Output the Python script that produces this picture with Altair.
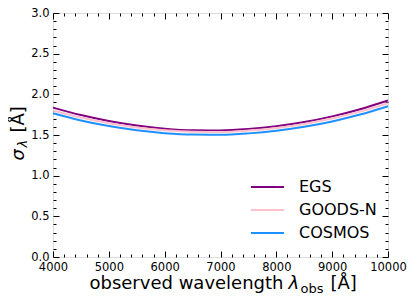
import altair as alt
import pandas as pd

# ---- data ----
wavelength = [4000, 4500, 5000, 5500, 6000, 6500, 7000, 7500, 8000, 8500, 9000, 9500, 10000]
egs = [1.837, 1.745, 1.672, 1.616, 1.578, 1.558, 1.556, 1.573, 1.607, 1.659, 1.729, 1.817, 1.924]
goods_n = [1.802, 1.714, 1.645, 1.593, 1.558, 1.540, 1.538, 1.555, 1.587, 1.636, 1.703, 1.787, 1.890]
cosmos = [1.767, 1.679, 1.610, 1.558, 1.523, 1.505, 1.503, 1.520, 1.552, 1.601, 1.667, 1.751, 1.854]
series_names = ["EGS", "GOODS-N", "COSMOS"]
series_colors = ["#800080", "#ffc0cb", "#1e90ff"]

x_major = [4000, 5000, 6000, 7000, 8000, 9000, 10000]
x_minor = [v for v in range(4000, 10001, 200) if v % 1000 != 0]
y_major = [0.0, 0.5, 1.0, 1.5, 2.0, 2.5, 3.0]
y_minor = [round(i * 0.1, 1) for i in range(31) if i % 5 != 0]

rows = []
for name, vals in zip(series_names, [egs, goods_n, cosmos]):
    for w, v in zip(wavelength, vals):
        rows.append({"wavelength": w, "sigma": v, "survey": name})
df = pd.DataFrame(rows)

FONT = "DejaVu Sans"
MAJ, MIN = 6, 3
W, H = 335, 244


def tick_axis(orient, values, size):
    return alt.Axis(orient=orient, values=values, tickSize=size, offset=-size,
                    labels=False, domain=False, grid=False, title=None,
                    tickColor="black", tickWidth=1)


def title_axis(orient, text, **kw):
    return alt.Axis(orient=orient, values=x_major if orient in ("bottom", "top") else y_major,
                    ticks=False, labels=False, domain=False, grid=False,
                    title=text, titleFont=FONT, titleColor="black",
                    titleFontWeight="normal", **kw)


x_label_axis = alt.Axis(orient="bottom", values=x_major, ticks=False, tickSize=0, domain=False,
                        grid=False, labelFont=FONT, labelFontSize=11.5, labelColor="black",
                        labelPadding=4, labelFlush=False, labelOverlap=False, format="d",
                        title="observed wavelength", titleFont=FONT, titleFontSize=18,
                        titleFontWeight="normal", titleColor="black", titleAlign="right",
                        titleAnchor="start", titleX=230, titleY=31, titleBaseline="alphabetic")
y_label_axis = alt.Axis(orient="left", values=y_major, ticks=False, tickSize=0, domain=False,
                        grid=False, labelFont=FONT, labelFontSize=11.5, labelColor="black",
                        labelPadding=4, labelFlush=False, labelOverlap=False, format=".1f",
                        title="σ", titleFont=FONT, titleFontSize=18, titleFontStyle="italic",
                        titleFontWeight="normal", titleColor="black", titleAngle=270,
                        titleAlign="left", titleAnchor="start", titleX=-30, titleY=147,
                        titleBaseline="alphabetic")

x_axes = [
    x_label_axis,
    tick_axis("bottom", x_major, MAJ),
    tick_axis("bottom", x_minor, MIN),
    tick_axis("top", x_major, MAJ),
    tick_axis("top", x_minor, MIN),
    title_axis("bottom", "λ", titleFontSize=18, titleFontStyle="italic", titleAlign="left",
               titleAnchor="start", titleX=235, titleY=31, titleBaseline="alphabetic"),
    title_axis("bottom", "obs", titleFontSize=13, titleAlign="left",
               titleAnchor="start", titleX=247, titleY=35, titleBaseline="alphabetic"),
    title_axis("bottom", "[Å]", titleFontSize=18, titleAlign="left",
               titleAnchor="start", titleX=277, titleY=31, titleBaseline="alphabetic"),
]
y_axes = [
    y_label_axis,
    tick_axis("left", y_major, MAJ),
    tick_axis("left", y_minor, MIN),
    tick_axis("right", y_major, MAJ),
    tick_axis("right", y_minor, MIN),
    title_axis("left", "λ", titleFontSize=13, titleFontStyle="italic", titleAngle=270,
               titleAlign="left", titleAnchor="start", titleX=-26.5, titleY=134,
               titleBaseline="alphabetic"),
    title_axis("left", "[Å]", titleFontSize=18, titleAngle=270,
               titleAlign="left", titleAnchor="start", titleX=-30, titleY=119,
               titleBaseline="alphabetic"),
]

x_scale = alt.Scale(domain=[4000, 10000], nice=False, zero=False)
y_scale = alt.Scale(domain=[0, 3], nice=False, zero=False)

base = alt.Chart(df)
layers = []
n = max(len(x_axes), len(y_axes))
for i in range(n):
    xa = x_axes[i] if i < len(x_axes) else None
    ya = y_axes[i] if i < len(y_axes) else None
    xenc = alt.X("wavelength:Q", scale=x_scale, axis=xa)
    yenc = alt.Y("sigma:Q", scale=y_scale, axis=ya)
    if i == 0:
        layer = base.mark_line(strokeWidth=2, interpolate="monotone").encode(
            x=xenc, y=yenc,
            color=alt.Color("survey:N",
                            scale=alt.Scale(domain=series_names, range=series_colors),
                            sort=series_names,
                            legend=alt.Legend(orient="none", legendX=197, legendY=164,
                                              title=None, symbolType="stroke",
                                              symbolSize=1089, symbolStrokeWidth=2,
                                              labelFont=FONT, labelFontSize=16,
                                              labelColor="black", labelOffset=14,
                                              clipHeight=20, rowPadding=3, padding=0)),
            order=alt.value(0),
        )
    else:
        layer = base.mark_line(strokeOpacity=0).encode(x=xenc, y=yenc, detail="survey:N")
    layers.append(layer)

chart = alt.layer(*layers).resolve_axis(x="independent", y="independent").properties(
    width=W, height=H,
    padding={"left": 45, "top": 5, "right": 19, "bottom": 39},
    autosize=alt.AutoSizeParams(type="none"),
).configure_view(stroke="black", strokeWidth=2).configure(font=FONT)

chart.save("out.html", embed_options={"renderer": "svg", "actions": False})
